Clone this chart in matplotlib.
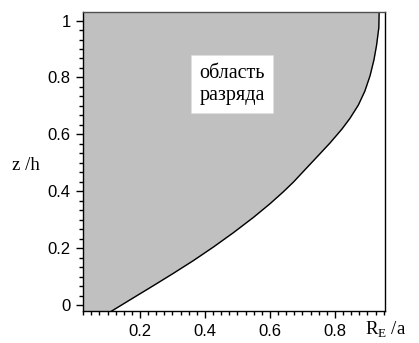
import matplotlib
matplotlib.use('Agg')
import matplotlib.pyplot as plt
from matplotlib.ticker import MultipleLocator, FuncFormatter

plt.rcParams['mathtext.fontset'] = 'custom'
plt.rcParams['mathtext.rm'] = 'Liberation Serif'

# boundary of the discharge region
r_a = [0.113, 0.179, 0.241, 0.302, 0.364, 0.426, 0.487, 0.549, 0.600, 0.641, 0.672,
       0.708, 0.745, 0.785, 0.821, 0.846, 0.872, 0.892, 0.908, 0.920, 0.928, 0.935, 0.936]
z_h = [-0.021, 0.025, 0.068, 0.111, 0.156, 0.204, 0.254, 0.308, 0.356, 0.398, 0.432,
       0.476, 0.521, 0.570, 0.618, 0.656, 0.703, 0.752, 0.806, 0.862, 0.913, 0.975, 1.031]

x_ticks = [0.2, 0.4, 0.6, 0.8]
y_ticks = [0, 0.2, 0.4, 0.6, 0.8, 1]
region_label = 'область\nразряда'

fig = plt.figure(figsize=(4.19, 3.43), dpi=100)
ax = fig.add_axes([83/419, 1-311/343, (385-83)/419, (311-12)/343])

x0, x1 = 0.0246, 0.954
ax.fill_betweenx(z_h, x0, r_a, color='#c0c0c0', lw=0)
ax.plot(r_a, z_h, color='black', lw=1)

ax.set_xlim(x0, x1)
ax.set_ylim(-0.021, 1.03)

ax.set_xticks(x_ticks)
ax.set_yticks(y_ticks)
ax.xaxis.set_minor_locator(MultipleLocator(0.025))
ax.yaxis.set_minor_locator(MultipleLocator(0.2/6))
fmt = FuncFormatter(lambda v, p: '%g' % v)
ax.xaxis.set_major_formatter(fmt)
ax.yaxis.set_major_formatter(fmt)
ax.tick_params(which='major', length=5, width=1, labelsize=12, pad=4)
ax.tick_params(which='minor', length=3, width=1)
for lab in ax.get_xticklabels() + ax.get_yticklabels():
    lab.set_family('Liberation Sans')

for s in ax.spines.values():
    s.set_color('black')
    s.set_linewidth(1)
ax.spines['top'].set_color('#505050')

ax.text(0.483, 0.776, region_label, ha='center', va='center', fontsize=14.5,
        family='Liberation Serif', linespacing=1.25,
        bbox=dict(boxstyle='square,pad=0.4', fc='white', ec='#e0e0e0', lw=0.5))

fig.text(26/419, 1-165/343, 'z /h', ha='center', va='center', fontsize=13.5, family='Liberation Serif')
fig.text(386/419, 1-330/343, r'R$_{\mathrm{E}}$ /a', ha='center', va='center', fontsize=13.5,
         family='Liberation Serif')

fig.savefig('out.png', dpi=100)
